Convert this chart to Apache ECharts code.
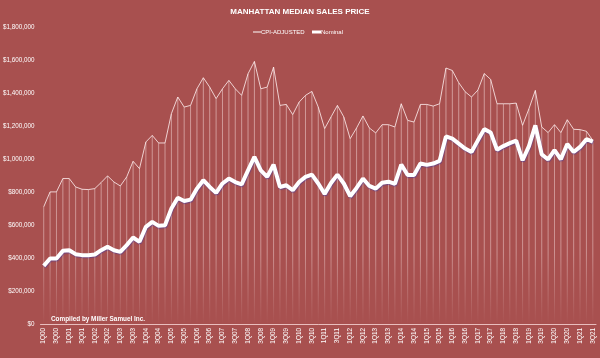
<!DOCTYPE html>
<html>
<head>
<meta charset="utf-8">
<script src="https://cdn.jsdelivr.net/npm/echarts@6/dist/echarts.min.js"></script>
<style>
html,body{margin:0;padding:0;background:#A8504F;}
#c{width:600px;height:358px;}
</style>
</head>
<body>
<div id="c"></div>
<script>
var quarters = ["1Q00","2Q00","3Q00","4Q00","1Q01","2Q01","3Q01","4Q01","1Q02","2Q02","3Q02","4Q02",
"1Q03","2Q03","3Q03","4Q03","1Q04","2Q04","3Q04","4Q04","1Q05","2Q05","3Q05","4Q05",
"1Q06","2Q06","3Q06","4Q06","1Q07","2Q07","3Q07","4Q07","1Q08","2Q08","3Q08","4Q08",
"1Q09","2Q09","3Q09","4Q09","1Q10","2Q10","3Q10","4Q10","1Q11","2Q11","3Q11","4Q11",
"1Q12","2Q12","3Q12","4Q12","1Q13","2Q13","3Q13","4Q13","1Q14","2Q14","3Q14","4Q14",
"1Q15","2Q15","3Q15","4Q15","1Q16","2Q16","3Q16","4Q16","1Q17","2Q17","3Q17","4Q17",
"1Q18","2Q18","3Q18","4Q18","1Q19","2Q19","3Q19","4Q19","1Q20","2Q20","3Q20","4Q20",
"1Q21","2Q21","3Q21"];

var cpiAdjusted = [711000,802000,802000,883000,883000,832000,818000,816000,822000,859000,899000,862000,
838000,893000,988000,943000,1105000,1145000,1099000,1099000,1277000,1378000,1317000,1327000,
1428000,1495000,1438000,1368000,1428000,1479000,1428000,1388000,1519000,1594000,1428000,1438000,
1560000,1327000,1333000,1271000,1347000,1388000,1412000,1317000,1186000,1257000,1327000,1257000,
1125000,1190000,1263000,1190000,1160000,1210000,1210000,1196000,1337000,1236000,1226000,1333000,
1333000,1323000,1337000,1554000,1539000,1465000,1410000,1378000,1420000,1520000,1485000,1337000,
1337000,1337000,1341000,1206000,1307000,1418000,1196000,1162000,1210000,1162000,1240000,1182000,
1180000,1170000,1115000];

var nominal = [353000,398000,398000,444000,448000,424000,418000,418000,422000,448000,469000,448000,
438000,479000,525000,499000,590000,620000,596000,600000,701000,766000,747000,755000,
822000,873000,832000,796000,853000,883000,862000,848000,933000,1014000,933000,893000,
968000,832000,842000,812000,862000,893000,907000,853000,790000,856000,907000,853000,
776000,826000,883000,838000,822000,858000,864000,850000,968000,905000,905000,974000,
966000,974000,990000,1139000,1125000,1095000,1065000,1044000,1115000,1183000,1163000,1058000,
1080000,1098000,1113000,994000,1080000,1206000,1030000,999000,1055000,1000000,1093000,1044000,
1075000,1122000,1107000];

var yTicks = {min: 0, max: 1800000, interval: 200000};

var chart = echarts.init(document.getElementById('c'), null, {renderer: 'canvas'});
var fontFam = '"Liberation Sans", Arial, sans-serif';

chart.setOption({
  backgroundColor: '#A8504F',
  animation: false,
  textStyle: {fontFamily: fontFam},
  title: {
    text: 'MANHATTAN MEDIAN SALES PRICE',
    left: 'center', top: 3,
    textStyle: {color: '#fff', fontSize: 8, fontWeight: 'bold', fontFamily: fontFam}
  },
  graphic: [
    {type: 'rect', shape: {x: 253, y: 31.5, width: 8, height: 1}, style: {fill: '#fff'}, z: 100},
    {type: 'text', x: 261, y: 29, z: 100,
     style: {text: 'CPI-ADJUSTED', fill: '#fff', font: '6px ' + fontFam}},
    {type: 'rect', shape: {x: 312, y: 30.5, width: 9, height: 3}, style: {fill: '#fff'}, z: 100},
    {type: 'text', x: 321, y: 29, z: 100,
     style: {text: 'Nominal', fill: '#fff', font: '6px ' + fontFam}},
    {type: 'text', left: 51, top: 316, z: 100,
     style: {text: 'Compiled by Miller Samuel Inc.', fill: '#fff', font: 'bold 6.4px ' + fontFam}}
  ],
  grid: {left: 40, right: 4, top: 27.5, bottom: 34},
  xAxis: {
    type: 'category', data: quarters, boundaryGap: true,
    axisTick: {show: false},
    axisLine: {lineStyle: {color: 'rgba(255,225,225,0.75)', width: 1}},
    axisLabel: {color: '#fff', fontSize: 6.4, rotate: 90, interval: 1, margin: 4}
  },
  yAxis: {
    type: 'value', min: yTicks.min, max: yTicks.max, interval: yTicks.interval,
    splitLine: {show: false},
    axisLine: {show: false}, axisTick: {show: false},
    axisLabel: {
      color: '#fff', fontSize: 6.3, margin: 6,
      formatter: function (v) { return '$' + v.toLocaleString('en-US'); }
    }
  },
  series: [
    {
      name: 'drops', type: 'bar', data: cpiAdjusted, barWidth: 1, z: 1,
      silent: true,
      itemStyle: {
        color: new echarts.graphic.LinearGradient(0, 0, 0, 324, [
          {offset: 0, color: 'rgba(255,235,235,0.5)'},
          {offset: 0.78, color: 'rgba(255,235,235,0.42)'},
          {offset: 1, color: 'rgba(255,235,235,0)'}
        ], true)
      }
    },
    {
      name: 'CPI-ADJUSTED', type: 'line', data: cpiAdjusted, z: 3,
      symbol: 'none', showSymbol: false,
      lineStyle: {color: 'rgba(255,240,240,0.9)', width: 0.9},
      itemStyle: {color: '#fff'}
    },
    {
      name: 'Nominal', type: 'line', data: nominal, z: 4,
      symbol: 'none', showSymbol: false,
      lineStyle: {color: '#fff', width: 4, shadowColor: 'rgba(60,60,170,0.5)', shadowBlur: 1, shadowOffsetX: 0.5, shadowOffsetY: 1},
      itemStyle: {color: '#fff'}
    }
  ]
});
</script>
</body>
</html>
